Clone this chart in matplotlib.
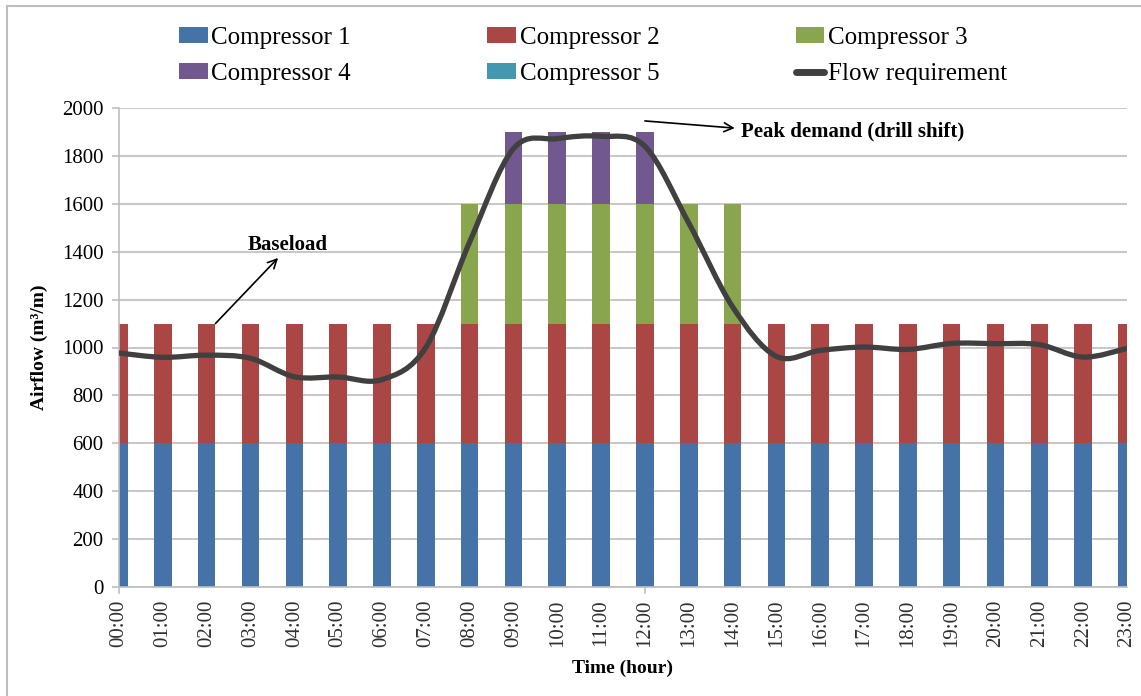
import matplotlib

matplotlib.use("Agg")
import matplotlib.pyplot as plt
import numpy as np
from matplotlib.lines import Line2D
from matplotlib.patches import PathPatch, Patch
from matplotlib.path import Path

plt.rcParams["font.family"] = ["Liberation Serif", "DejaVu Serif"]

hours = [f"{h:02d}:00" for h in range(24)]
compressor_1 = [600] * 24
compressor_2 = [500] * 24
compressor_3 = [0] * 8 + [500] * 7 + [0] * 9
compressor_4 = [0] * 9 + [300] * 4 + [0] * 11
compressor_5 = [0] * 24
flow_requirement = [977, 959, 968, 955, 878, 877, 866, 1000, 1440, 1830, 1872, 1882,
                    1840, 1520, 1170, 963, 988, 1002, 992, 1017, 1016, 1012, 960, 996]

series = [
    ("Compressor 1", compressor_1, "#4572A7"),
    ("Compressor 2", compressor_2, "#AA4643"),
    ("Compressor 3", compressor_3, "#89A54E"),
    ("Compressor 4", compressor_4, "#71588F"),
    ("Compressor 5", compressor_5, "#4198AF"),
]
LINE_COLOR = "#404040"
GRID_COLOR = "#BEBEBE"


def smooth_path(xs, ys):
    # Excel-style smoothed line: Catmull-Rom segments as cubic Beziers
    pts = np.column_stack([xs, ys]).astype(float)
    ext = np.vstack([pts[0], pts, pts[-1]])
    verts = [pts[0]]
    codes = [Path.MOVETO]
    for i in range(len(pts) - 1):
        p0, p1, p2, p3 = ext[i], ext[i + 1], ext[i + 2], ext[i + 3]
        verts += [p1 + (p2 - p0) / 6.0, p2 - (p3 - p1) / 6.0, p2]
        codes += [Path.CURVE4] * 3
    return Path(verts, codes)


fig = plt.figure(figsize=(11.41, 6.96), dpi=100)
ax = fig.add_axes([119 / 1141, 1 - 587 / 696, (1127 - 119) / 1141, (587 - 108) / 696])

x = np.arange(len(hours))
bottom = np.zeros(len(hours))
handles = {}
for name, vals, color in series:
    ax.bar(x, vals, width=0.4, bottom=bottom, color=color, linewidth=0, zorder=2)
    bottom += np.asarray(vals, dtype=float)
    handles[name] = Patch(facecolor=color, edgecolor="none", label=name)

ax.add_patch(PathPatch(smooth_path(x, flow_requirement), facecolor="none",
                       edgecolor=LINE_COLOR, linewidth=3.8, capstyle="round",
                       joinstyle="round", zorder=3))
handles["Flow requirement"] = Line2D([], [], color=LINE_COLOR, linewidth=5,
                                     solid_capstyle="round", label="Flow requirement")

ax.set_xlim(0, 23)
ax.set_ylim(0, 2000)
ax.set_yticks(range(0, 2001, 200))
ax.set_xticks(x)
ax.set_xticklabels(hours, rotation=90, fontsize=15, color="#303030")
ax.tick_params(axis="x", length=0, pad=9)
ax.tick_params(axis="y", labelsize=15, length=5, color=GRID_COLOR, width=1.2, pad=6)
for t in (0, 12):
    ax.plot([t, t], [0, -0.013], transform=ax.get_xaxis_transform(), color=GRID_COLOR,
            linewidth=1.2, clip_on=False)

ax.yaxis.grid(True, color=GRID_COLOR, linewidth=1.2, zorder=0)
ax.set_axisbelow(True)
for side in ("top", "right"):
    ax.spines[side].set_visible(False)
for side in ("left", "bottom"):
    ax.spines[side].set_color(GRID_COLOR)
    ax.spines[side].set_linewidth(1.2)

ax.set_ylabel("Airflow (m³/m)", fontsize=14, fontweight="bold", labelpad=10)
ax.set_xlabel("Time (hour)", fontsize=14, fontweight="bold", labelpad=9)

ax.annotate("", xy=(3.63, 1374), xytext=(2.2, 1100),
            arrowprops=dict(arrowstyle="->", color="black", lw=1.2, mutation_scale=16,
                            shrinkA=0, shrinkB=0))
ax.text(3.85, 1385, "Baseload", fontsize=15, fontweight="bold", ha="center", va="bottom")
ax.annotate("", xy=(14.05, 1916), xytext=(12.0, 1946),
            arrowprops=dict(arrowstyle="->", color="black", lw=1.2, mutation_scale=16,
                            shrinkA=0, shrinkB=0))
ax.text(14.2, 1900, "Peak demand (drill shift)", fontsize=15, fontweight="bold",
        ha="left", va="center")

order = ["Compressor 1", "Compressor 4", "Compressor 2", "Compressor 5",
         "Compressor 3", "Flow requirement"]
fig.legend([handles[k] for k in order], order, loc="center",
           bbox_to_anchor=(593 / 1141, 1 - 56 / 696), ncol=3, frameon=False,
           fontsize=18, handlelength=1.15, handleheight=0.6, handletextpad=0.15,
           columnspacing=5.45, labelspacing=0.55)

# light frame around the chart area
fig.add_artist(Line2D([7 / 1141, 1], [1 - 6 / 696, 1 - 6 / 696], color=GRID_COLOR, lw=1.5))
fig.add_artist(Line2D([7 / 1141, 7 / 1141], [0, 1 - 6 / 696], color=GRID_COLOR, lw=1.5))

fig.savefig("out.png", dpi=100)
plt.close(fig)
